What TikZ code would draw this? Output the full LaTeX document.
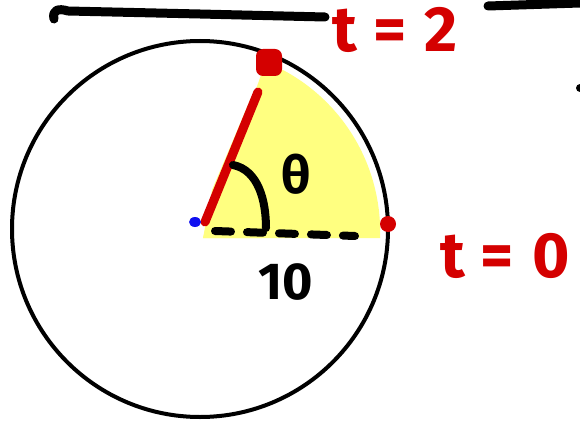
\documentclass[tikz,border=0pt]{standalone}
\usepackage{fontspec}
\setmainfont{Fira Sans}
\usetikzlibrary{positioning}
\definecolor{pen}{HTML}{D40000}
\definecolor{hilite}{HTML}{FFFF80}
\definecolor{dotblue}{HTML}{1010F0}

\begin{document}
\begin{tikzpicture}[x=1pt,y=-1pt,
      ink/.style={line width=8pt,line cap=round,line join=round},
      rim/.style={line width=4pt,black},
      redlbl/.style={text=pen,inner sep=0pt,font=\fontsize{64}{64}\selectfont\bfseries},
      blacklbl/.style={text=black,inner sep=0pt,font=\fontsize{52}{52}\selectfont\bfseries}
    ]
    \useasboundingbox (0,0) rectangle (580,422);

    % points
    \coordinate (O) at (200,229);
    \coordinate (P) at (268,62);
    \coordinate (R) at (388,224);

    % shaded sector
    \fill[hilite] (203,238) -- (380,238) arc[start angle=2,end angle=-68,radius=183] -- cycle;
    \fill[hilite] (203,238) -- (212,190) -- (250,100) -- (262,80) -- (262,238) -- cycle;

    % circle
    \draw[rim] (O) circle[radius=188];

    % strokes at the top
    \draw[ink,line width=9pt] (54,19) .. controls (52,10) and (58,8) .. (68,11)
          -- (200,14) -- (325,17);
    \draw[ink,line width=9pt] (488,6) -- (580,3);
    \fill (580,88) circle[radius=4];

    % radius and angle
    \draw[ink,pen,line width=9pt] (205,222) -- (258,92);
    \fill[pen,rounded corners=7pt] (256,49) rectangle (282,76);
    \fill[pen] (R) circle[radius=8];
    \fill[dotblue] (195,222) ellipse[x radius=6,y radius=5];
    \draw[ink,dash pattern=on 16pt off 16pt] (215,231) -- (355,236);
    \draw[ink] (233,165) .. controls (258,170) and (266,200) .. (266,228);

    % labels
    \node[redlbl] (ttop) at (395,30) {t\hspace{16pt}=\hspace{18pt}2};
    \node[redlbl,anchor=west] (tright) at (440,256) {t\hspace{16pt}=\hspace{18pt}0};
    \node[blacklbl] (theta) at (296,174) {θ};
    \node[blacklbl] (ten) at (286,282) {10};

  \end{tikzpicture}
\end{document}
